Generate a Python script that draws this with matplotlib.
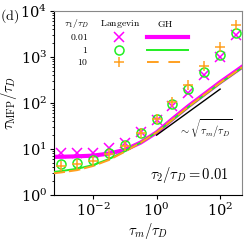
import numpy as np
import matplotlib
matplotlib.use("Agg")
import matplotlib.pyplot as plt
from matplotlib.lines import Line2D

plt.rcParams['mathtext.fontset'] = 'cm'
plt.rcParams['font.family'] = ['DejaVu Serif']

# ---- data ----
tau_m = 10 ** np.array([-3, -2.5, -2, -1.5, -1, -0.5, 0, 0.5, 1, 1.5, 2, 2.5])
lang_001 = [8.3, 8.3, 8.3, 10.5, 13.5, 23, 42, 88, 167, 405, 1000, 3000]
lang_1 = [4.65, 5.0, 5.8, 8.0, 12.0, 22, 44, 96, 200, 480, 1100, 3250]
lang_10 = [4.3, 4.7, 5.5, 7.6, 11.8, 22, 44, 103, 246, 636, 1670, 5000]

gh_x = 10 ** np.array([-3.25, -3, -2.5, -2, -1.5, -1, -0.5, 0, 0.5, 1, 1.5, 2, 2.7])
gh_001 = 10 ** np.array([0.83, 0.83, 0.84, 0.855, 0.90, 0.98, 1.14, 1.36, 1.65, 1.93, 2.19, 2.45, 2.79])
gh_1 = 10 ** np.array([0.50, 0.52, 0.57, 0.65, 0.78, 0.95, 1.14, 1.36, 1.63, 1.91, 2.17, 2.43, 2.77])
gh_10 = 10 ** np.array([0.47, 0.49, 0.54, 0.63, 0.76, 0.94, 1.14, 1.36, 1.64, 1.92, 2.18, 2.44, 2.78])

ref_x = [1, 100]
ref_y = [20, 200]

labels = ['0.01', '1', '10']
MAG, GRN, ORG = '#ff00ff', '#22ee22', '#ffa020'

fig = plt.figure(figsize=(2.49, 2.44), dpi=100)
ax = fig.add_axes([0.217, 0.201, 0.755, 0.754])
ax.set_xscale('log')
ax.set_yscale('log')

ax.plot(gh_x, gh_001, color=MAG, lw=3.0, zorder=2)
ax.plot(gh_x, gh_1, color=GRN, lw=1.4, zorder=3)
ax.plot(gh_x, gh_10, color=ORG, lw=1.4, dashes=(6, 2), zorder=4)

ax.plot(tau_m, lang_001, ls='none', marker='x', ms=6.5, mew=1.1, color=MAG, zorder=5)
ax.plot(tau_m, lang_1, ls='none', marker='o', ms=6.5, mew=1.1, mfc='none', mec=GRN, zorder=6)
ax.plot(tau_m, lang_10, ls='none', marker='+', ms=7.5, mew=1.1, color=ORG, zorder=7)

ax.plot(ref_x, ref_y, color='black', lw=1.0, zorder=4)
ax.text(5.0, 28, r'$\sim\sqrt{\tau_m/\tau_D}$', fontsize=7.5, ha='left', va='center')
ax.text(0.93, 0.11, r'$\tau_2/\tau_D = 0.01$', transform=ax.transAxes, fontsize=10.5,
        ha='right', va='center')

ax.set_xlim(10 ** -3.23, 10 ** 2.69)
ax.set_ylim(1, 1e4)
ax.set_xticks([1e-2, 1, 1e2])
ax.xaxis.set_minor_locator(matplotlib.ticker.NullLocator())
ax.tick_params(axis='both', which='major', length=3, width=0.8, labelsize=10.5, direction='out', pad=2)
ax.tick_params(axis='y', which='minor', length=1.8, width=0.6, direction='out')
for s in ['top', 'right']:
    ax.spines[s].set_color('#888888')
ax.set_xlabel(r'$\tau_m/\tau_D$', fontsize=10.5, labelpad=1)
ax.set_ylabel(r'$\tau_{\mathrm{MFP}}/\tau_D$', fontsize=10.5, labelpad=1)

fig.text(0.0, 0.935, r'$\mathrm{(d)}$', fontsize=10, ha='left', va='center')

# legend table
tr = ax.transAxes
def fx(px):
    return (px - 54) / (242 - 54)
def fy(py):
    return (195 - py) / (195 - 11)
ax.text(fx(76), fy(24), r'$\tau_1/\tau_D$', transform=tr, fontsize=7, ha='center', va='center')
ax.text(fx(120), fy(24), r'$\mathrm{Langevin}$', transform=tr, fontsize=7, ha='center', va='center')
ax.text(fx(165), fy(24), r'$\mathrm{GH}$', transform=tr, fontsize=7, ha='center', va='center')
rows_y = [37.5, 50, 62]
mk = [dict(marker='x', color=MAG, ms=6.5, mew=1.1),
      dict(marker='o', mfc='none', mec=GRN, ms=6.5, mew=1.1),
      dict(marker='+', color=ORG, ms=7.5, mew=1.1)]
lst = [dict(color=MAG, lw=3.0), dict(color=GRN, lw=1.4), dict(color=ORG, lw=1.4, dashes=(6, 5))]
for lab, ry, m, l in zip(labels, rows_y, mk, lst):
    ax.text(fx(88), fy(ry), '$' + lab + '$', transform=tr, fontsize=7, ha='right', va='center')
    ax.add_line(Line2D([fx(119)], [fy(ry)], transform=tr, ls='none', **m))
    ax.add_line(Line2D([fx(147), fx(188)], [fy(ry), fy(ry)], transform=tr, **l))

fig.savefig('out.png', dpi=100)
